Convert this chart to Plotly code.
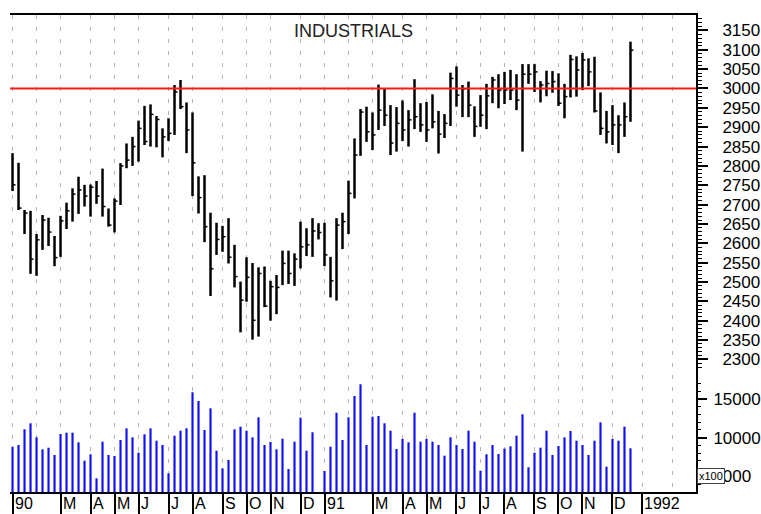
import plotly.graph_objects as go

# ---------------- data (weekly, Jan 1990 - Dec 1991) ----------------
weeks = list(range(104))

high = [2833, 2808, 2686, 2684, 2624, 2673, 2666, 2619, 2671, 2705,
        2742, 2772, 2751, 2752, 2761, 2793, 2690, 2716, 2807, 2858,
        2875, 2917, 2955, 2959, 2929, 2897, 2923, 3009, 3022, 2964,
        2938, 2773, 2776, 2679, 2653, 2645, 2665, 2596, 2501, 2564,
        2549, 2538, 2540, 2503, 2518, 2581, 2581, 2574, 2656, 2639,
        2665, 2652, 2653, 2565, 2665, 2679, 2762, 2871, 2947, 2953,
        2938, 3010, 2999, 2957, 2952, 2969, 2944, 3024, 2962, 2965,
        2985, 2942, 2934, 3041, 3057, 3009, 3018, 2954, 2983, 3012,
        3030, 3037, 3043, 3048, 3037, 3063, 3063, 3063, 3019, 3046,
        3045, 3039, 3012, 3087, 3083, 3092, 3078, 3082, 2990, 2942,
        2957, 2931, 2964, 3121]

low = [2735, 2686, 2624, 2521, 2516, 2583, 2593, 2541, 2565, 2637,
       2656, 2676, 2695, 2669, 2702, 2669, 2643, 2628, 2699, 2794,
       2800, 2811, 2854, 2850, 2848, 2822, 2864, 2880, 2947, 2833,
       2722, 2677, 2603, 2464, 2570, 2578, 2548, 2486, 2370, 2449,
       2351, 2359, 2435, 2400, 2417, 2492, 2495, 2490, 2535, 2567,
       2565, 2610, 2541, 2460, 2452, 2585, 2624, 2716, 2826, 2862,
       2841, 2893, 2903, 2828, 2837, 2864, 2850, 2895, 2888, 2862,
       2897, 2832, 2872, 2903, 2953, 2926, 2926, 2875, 2901, 2895,
       2962, 2949, 2960, 2970, 2944, 2837, 3012, 2991, 2964, 2980,
       2989, 2955, 2923, 2977, 2979, 2996, 3006, 2938, 2880, 2858,
       2854, 2833, 2875, 2914]

close = [2751, 2691, 2678, 2559, 2609, 2660, 2629, 2563, 2658, 2684,
         2727, 2738, 2722, 2745, 2722, 2695, 2647, 2709, 2800, 2815,
         2850, 2897, 2863, 2933, 2920, 2875, 2884, 2991, 2953, 2893,
         2808, 2718, 2643, 2534, 2610, 2617, 2564, 2514, 2453, 2512,
         2401, 2522, 2438, 2488, 2486, 2548, 2522, 2559, 2591, 2596,
         2632, 2628, 2570, 2503, 2647, 2656, 2729, 2828, 2939, 2888,
         2880, 2944, 2931, 2859, 2910, 2893, 2919, 2927, 2906, 2893,
         2914, 2882, 2910, 3026, 2983, 2999, 2957, 2902, 2931, 2981,
         3022, 2996, 2996, 2996, 2970, 3037, 3037, 3043, 3009, 3013,
         3018, 2962, 2979, 3075, 3048, 3074, 3043, 2942, 2897, 2888,
         2906, 2906, 2927, 3099]

volume = [8835, 9055, 11088, 11865, 10052, 8498, 8705, 7760, 10479, 10648,
          10648, 9404, 7022, 7850, 4742, 9482, 7760, 7630, 9702, 11217,
          10052, 8058, 10440, 11217, 9612, 9055, 5390, 10259, 10907, 11217,
          15879, 14753, 10997, 13807, 8317, 6037, 7112, 11088, 11425, 10907,
          10052, 12642, 9055, 9443, 8498, 9870, 5947, 9482, 12590, 8317,
          10699, 2900, 5688, 8835, 13238, 9702, 12642, 15400, 16915, 9055,
          12720, 12810, 11865, 10907, 8537, 9832, 9404, 13238, 9482, 9832,
          9482, 9055, 7669, 10052, 9055, 8537, 10907, 9482, 5727, 7850,
          9055, 7889, 8588, 8886, 10259, 13030, 6167, 8058, 8705, 10907,
          7760, 8925, 10052, 10868, 9612, 9055, 7760, 9612, 11994, 6245,
          9832, 9612, 11425, 8627]

month_start_weeks = [0, 4, 8, 13, 17, 21, 26, 30, 35, 39, 43, 48,
                     52, 56, 60, 65, 69, 74, 78, 82, 87, 91, 95, 100, 105, 110]
label_weeks = [0, 8, 13, 17, 21, 26, 30, 35, 39, 43, 48,
               52, 60, 65, 69, 74, 78, 82, 87, 91, 95, 100, 105]
label_text = ["90", "M", "A", "M", "J", "J", "A", "S", "O", "N", "D",
              "91", "M", "A", "M", "J", "J", "A", "S", "O", "N", "D", "1992"]
price_ticks = list(range(2300, 3151, 50))
price_minor = list(range(2280, 3190, 10))
volume_ticks = [5000, 10000, 15000]
volume_tick_text = ["5000", "10000", "15000"]
volume_minor = list(range(4000, 17001, 1000))
RESISTANCE = 3000
TITLE = "INDUSTRIALS"

FONT = "Arial, Liberation Sans, sans-serif"

# ---------------- build HLC bar segments ----------------
hl_x, hl_y, ck_x, ck_y = [], [], [], []
for w, h, l, c in zip(weeks, high, low, close):
    hl_x += [w, w, None]
    hl_y += [l, h, None]
    ck_x += [w, w + 0.5, None]
    ck_y += [c, c, None]

fig = go.Figure()

fig.add_trace(go.Bar(x=weeks, y=volume, yaxis="y2", width=0.36,
                     marker=dict(color="#1010f0", line=dict(width=0)),
                     hoverinfo="skip"))

fig.add_trace(go.Scatter(x=hl_x, y=hl_y, mode="lines",
                         line=dict(color="black", width=2.5),
                         hoverinfo="skip"))
fig.add_trace(go.Scatter(x=ck_x, y=ck_y, mode="lines",
                         line=dict(color="black", width=1.5),
                         hoverinfo="skip"))

fig.add_shape(type="line", xref="paper", x0=0, x1=1, yref="y",
              y0=RESISTANCE, y1=RESISTANCE,
              line=dict(color="#ff1a1a", width=2), layer="above")

annotations = []
for w, t in zip(label_weeks, label_text):
    annotations.append(dict(x=w, xref="x", y=0, yref="paper", text=t,
                            xanchor="left", yanchor="top", xshift=0, yshift=-1,
                            showarrow=False,
                            font=dict(family=FONT, size=16, color="black")))
annotations.append(dict(x=0.5, xref="paper", y=1, yref="paper", text=TITLE,
                        xanchor="center", yanchor="top", yshift=-4,
                        showarrow=False,
                        font=dict(family=FONT, size=18, color="#222")))
annotations.append(dict(x=1, xref="paper", xanchor="left", xshift=1,
                        y=5000, yref="y2", yanchor="middle", text="x100",
                        showarrow=False, bgcolor="white", bordercolor="#444",
                        borderwidth=1, borderpad=1,
                        font=dict(family=FONT, size=11, color="black")))

grid_style = dict(showgrid=True, gridcolor="#b4b4b4", gridwidth=1.5,
                  griddash="4px,8px")

fig.update_layout(
    width=761, height=514,
    margin=dict(l=10, r=65, t=15, b=22, autoexpand=False),
    paper_bgcolor="white", plot_bgcolor="white",
    showlegend=False,
    hovermode=False,
    font=dict(family=FONT, color="black"),
    annotations=annotations,
    xaxis=dict(range=[-0.42, 113.92], tickmode="array", tickvals=label_weeks,
               showticklabels=False, ticks="outside", ticklen=22, tickwidth=2,
               tickcolor="black", showline=True, linecolor="black",
               linewidth=2, mirror=True, zeroline=False, automargin=False,
               **grid_style,
               minor=dict(tickmode="array", tickvals=month_start_weeks,
                          ticks="", **grid_style)),
    yaxis=dict(side="right", range=[1957.4, 3189.9], tickmode="array",
               tickvals=price_ticks, ticks="outside", ticklen=10, tickwidth=2,
               tickcolor="black", showgrid=False, zeroline=False,
               showline=True, linecolor="black", linewidth=2,
               automargin=False,
               tickfont=dict(family=FONT, size=17, color="black"),
               ticklabelstandoff=11,
               minor=dict(tickmode="array", tickvals=price_minor,
                          ticks="outside", ticklen=4, tickwidth=1,
                          tickcolor="black", showgrid=False)),
    yaxis2=dict(overlaying="y", side="right", range=[2968, 64740],
                tickmode="array", tickvals=volume_ticks,
                ticktext=volume_tick_text, ticks="outside",
                ticklen=10, tickwidth=2, tickcolor="black", showgrid=False,
                zeroline=False, showline=False, automargin=False,
                tickfont=dict(family=FONT, size=17, color="black"),
                ticklabelstandoff=3,
                minor=dict(tickmode="array", tickvals=volume_minor,
                           ticks="outside", ticklen=4, tickwidth=1,
                           tickcolor="black", showgrid=False)),
)

fig.write_html("out.html",
               config={"displayModeBar": False, "staticPlot": True},
               post_script="document.body.style.margin='0px';"
                           "document.body.style.overflow='hidden';")
